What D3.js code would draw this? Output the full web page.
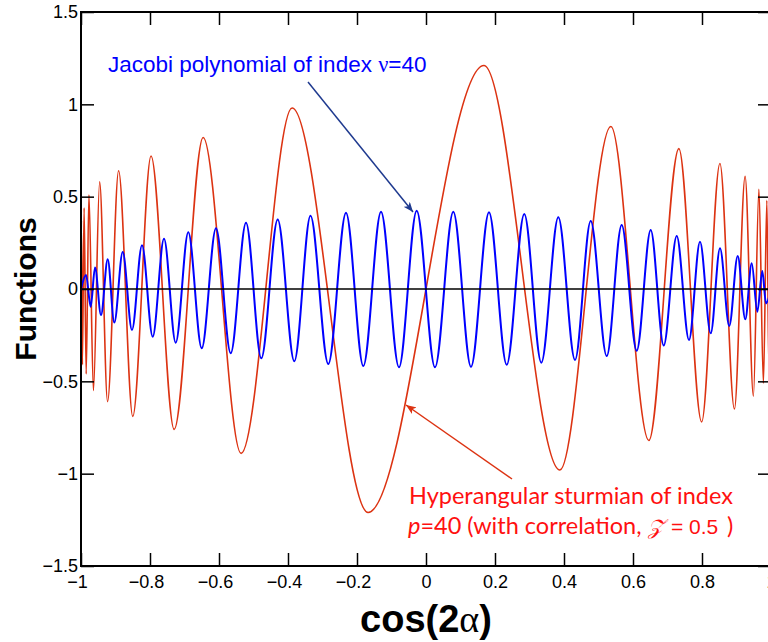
<!DOCTYPE html>
<html>
<head>
<meta charset="utf-8">
<script src="https://cdn.jsdelivr.net/npm/d3@7"></script>
<style>
body { margin: 0; background: #fff; }
svg { display: block; }
</style>
</head>
<body>
<svg id="chart"></svg>
<script>
const width = 768, height = 642;
const plotLeft = 81, plotTop = 12, plotRight = 771, plotBottom = 566;

// tick values and their labels
const xTicks = [-1, -0.8, -0.6, -0.4, -0.2, 0, 0.2, 0.4, 0.6, 0.8, 1];
const xTickLabels = ["−1", "−0.8", "−0.6", "−0.4", "−0.2", "0", "0.2", "0.4", "0.6", "0.8", "1"];
const yTicks = [-1.5, -1, -0.5, 0, 0.5, 1, 1.5];
const yTickLabels = ["−1.5", "−1", "−0.5", "0", "0.5", "1", "1.5"];

// Jacobi polynomial: extrema
const jacobiX = [-1, -0.9855, -0.9719, -0.9594, -0.9420, -0.9226, -0.9035, -0.8791, -0.8522, -0.8232, -0.7922,
    -0.7594, -0.7255, -0.6890, -0.6501, -0.6087, -0.5661, -0.5217, -0.4774, -0.4299, -0.3817,
    -0.3348, -0.2832, -0.2319, -0.1817, -0.1304, -0.0783, -0.0270, 0.0261, 0.0791, 0.1304,
    0.1826, 0.2339, 0.2849, 0.3342, 0.3835, 0.4319, 0.4774, 0.5238, 0.5672, 0.6107,
    0.6513, 0.6890, 0.7267, 0.7623, 0.7942, 0.8252, 0.8522, 0.8791, 0.9035, 0.9255,
    0.9441, 0.9604, 0.9748, 0.9855, 1];
const jacobiY = [0, 0.076, -0.096, 0.117, -0.141, 0.161, -0.182, 0.200, -0.222, 0.237, -0.258,
    0.272, -0.291, 0.307, -0.321, 0.329, -0.348, 0.359, -0.375, 0.377, -0.391,
    0.396, -0.406, 0.413, -0.417, 0.418, -0.424, 0.424, -0.424, 0.418, -0.421,
    0.415, -0.410, 0.406, -0.399, 0.388, -0.384, 0.368, -0.363, 0.347, -0.334,
    0.319, -0.306, 0.287, -0.276, 0.256, -0.240, 0.220, -0.200, 0.179, -0.164,
    0.139, -0.123, 0.097, -0.078, 0];

// hyperangular sturmian: extrema
const sturmX = [-1, -0.999, -0.996, -0.991, -0.985, -0.977, -0.964, -0.946, -0.923, -0.891, -0.850,
    -0.797, -0.730, -0.646, -0.536, -0.388, -0.168, 0.168, 0.388, 0.536, 0.646,
    0.733, 0.799, 0.852, 0.894, 0.925, 0.949, 0.965, 0.978, 0.988, 0.994, 0.997, 0.999, 1];
const sturmY = [0, 0.37, -0.41, 0.44, -0.46, 0.51, -0.55, 0.58, -0.61, 0.64, -0.69,
    0.72, -0.76, 0.82, -0.89, 0.98, -1.21, 1.21, -0.98, 0.88, -0.82,
    0.76, -0.72, 0.68, -0.65, 0.61, -0.58, 0.54, -0.51, 0.48, -0.45, 0.41, -0.37, 0];

const svg = d3.select("svg#chart")
    .attr("width", width)
    .attr("height", height)
    .style("font-family", "'Liberation Sans', Arial, sans-serif");

const x = d3.scaleLinear().domain([-1, 1]).range([plotLeft, plotRight]);
const y = d3.scaleLinear().domain([-1.5, 1.5]).range([plotBottom, plotTop]);

svg.append("defs").append("clipPath").attr("id", "clip")
    .append("rect")
    .attr("x", plotLeft).attr("y", plotTop)
    .attr("width", plotRight - plotLeft).attr("height", plotBottom - plotTop);

const line = d3.line()
    .x(d => x(d[0]))
    .y(d => y(d[1]))
    .curve(d3.curveMonotoneX);

const curves = svg.append("g").attr("clip-path", "url(#clip)");
curves.append("path")
    .datum(d3.zip(sturmX, sturmY))
    .attr("fill", "none")
    .attr("stroke", "#dc3312")
    .attr("stroke-width", 1.6)
    .attr("d", line);
curves.append("path")
    .datum(d3.zip(jacobiX, jacobiY))
    .attr("fill", "none")
    .attr("stroke", "#0000ff")
    .attr("stroke-width", 2)
    .attr("d", line);
curves.append("line")
    .attr("x1", x(-1)).attr("x2", x(1))
    .attr("y1", y(0)).attr("y2", y(0))
    .attr("stroke", "#000")
    .attr("stroke-width", 1.5);

// axes with inward ticks
const tickLen = 13;
const bottomAxis = svg.append("g")
    .attr("transform", `translate(0,${plotBottom})`)
    .call(d3.axisBottom(x).tickValues(xTicks).tickSizeInner(-tickLen).tickSizeOuter(0).tickPadding(9)
        .tickFormat((d, i) => xTickLabels[i]));
bottomAxis.selectAll("text").attr("dx", d => d < 0 ? -4 : 0);
svg.append("g")
    .attr("transform", `translate(0,${plotTop})`)
    .call(d3.axisTop(x).tickValues(xTicks).tickSizeInner(-tickLen).tickSizeOuter(0).tickFormat(""));
svg.append("g")
    .attr("transform", `translate(${plotLeft},0)`)
    .call(d3.axisLeft(y).tickValues(yTicks).tickSizeInner(-tickLen).tickSizeOuter(0).tickPadding(3)
        .tickFormat((d, i) => yTickLabels[i]));
svg.append("g")
    .attr("transform", `translate(${plotRight},0)`)
    .call(d3.axisRight(y).tickValues(yTicks).tickSizeInner(-tickLen).tickSizeOuter(0).tickFormat(""));

svg.selectAll(".domain").remove();
svg.selectAll(".tick line").attr("stroke", "#000").attr("stroke-width", 1.5);
svg.selectAll(".tick text")
    .attr("fill", "#000")
    .style("font-size", "18px")
    .style("font-family", "'Liberation Sans', Arial, sans-serif");

svg.append("rect")
    .attr("x", plotLeft).attr("y", plotTop)
    .attr("width", plotRight - plotLeft).attr("height", plotBottom - plotTop)
    .attr("fill", "none")
    .attr("stroke", "#000")
    .attr("stroke-width", 2);

// axis titles
const xTitle = svg.append("text")
    .attr("x", x(0)).attr("y", 632)
    .attr("text-anchor", "middle")
    .style("font-size", "38px")
    .style("font-weight", "bold");
xTitle.append("tspan").text("cos(2");
xTitle.append("tspan").style("font-weight", "normal").style("font-family", "'Liberation Serif', serif").text("α");
xTitle.append("tspan").text(")");

svg.append("text")
    .attr("transform", `translate(36,${y(0)}) rotate(-90)`)
    .attr("text-anchor", "middle")
    .style("font-size", "30px")
    .style("font-weight", "bold")
    .text("Functions");

// annotations
const defs = svg.select("defs");
function arrowMarker(id, color) {
    defs.append("marker")
        .attr("id", id)
        .attr("viewBox", "0 0 10 8")
        .attr("refX", 10).attr("refY", 4)
        .attr("markerWidth", 10).attr("markerHeight", 8)
        .attr("markerUnits", "userSpaceOnUse")
        .attr("orient", "auto")
        .append("path")
        .attr("d", "M0,0 L10,4 L0,8 L2.5,4 Z")
        .attr("fill", color);
}
arrowMarker("arrow-blue", "#1f3a8f");
arrowMarker("arrow-red", "#dc3312");

const blueText = svg.append("text")
    .attr("x", 108).attr("y", 72)
    .attr("fill", "#0000ff")
    .style("font-size", "22.5px");
blueText.append("tspan").text("Jacobi polynomial of index ");
blueText.append("tspan").style("font-family", "'Liberation Serif', serif").text("ν");
blueText.append("tspan").text("=40");

svg.append("line")
    .attr("x1", 308).attr("y1", 82)
    .attr("x2", 413).attr("y2", 212)
    .attr("stroke", "#1f3a8f")
    .attr("stroke-width", 1.5)
    .attr("marker-end", "url(#arrow-blue)");

svg.append("line")
    .attr("x1", 512).attr("y1", 479)
    .attr("x2", 406).attr("y2", 405)
    .attr("stroke", "#dc3312")
    .attr("stroke-width", 1.5)
    .attr("marker-end", "url(#arrow-red)");

const redFont = "Lato, 'Open Sans', sans-serif";
svg.append("text")
    .attr("x", 409).attr("y", 504)
    .attr("fill", "#ff1010")
    .style("font-family", redFont)
    .style("font-size", "23.5px")
    .text("Hyperangular sturmian of index");
const red2 = svg.append("text")
    .attr("x", 408).attr("y", 534)
    .attr("fill", "#ff1010")
    .style("font-family", redFont)
    .style("font-size", "23.5px");
red2.append("tspan").style("font-style", "italic").text("p");
red2.append("tspan").text("=40 (with correlation, ");
red2.append("tspan").attr("x", 648).style("font-family", "'DejaVu Serif', 'Liberation Serif', serif").style("font-style", "italic").style("font-size", "21px").text("𝒵");
red2.append("tspan").attr("x", 671).style("font-family", "'Liberation Sans', sans-serif").style("font-size", "21px").text("= 0.5");
red2.append("tspan").attr("x", 727).text(")");
</script>
</body>
</html>
